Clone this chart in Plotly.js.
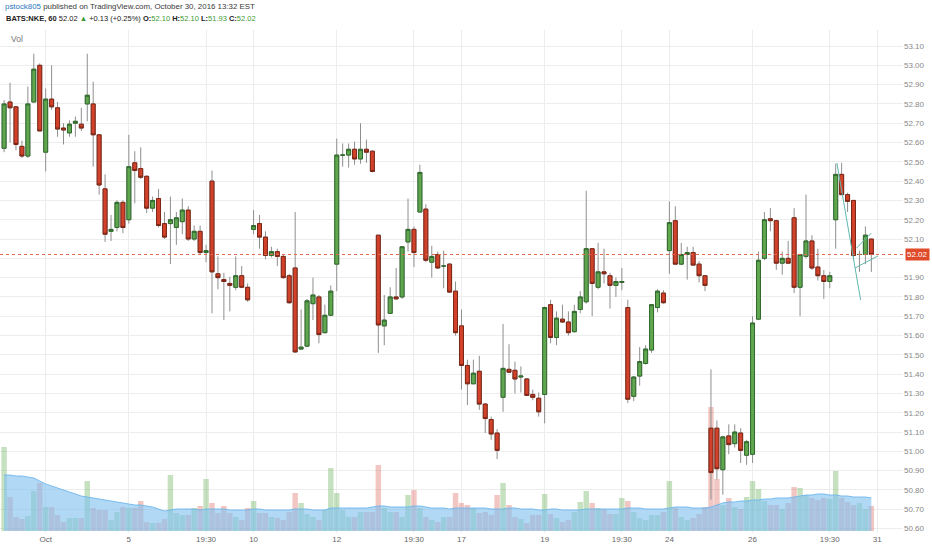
<!DOCTYPE html>
<html><head><meta charset="utf-8">
<script src="https://cdn.plot.ly/plotly-3.0.1.min.js"></script>
<style>html,body{margin:0;padding:0;background:#fff}#chart{width:932px;height:550px}</style>
</head><body><div id="chart"></div>
<script>
// Trading sessions (hourly bars, 7 per session)
const sessions = ['Sep 30','Oct 3','Oct 4','Oct 5','Oct 6','Oct 7','Oct 10','Oct 11','Oct 12','Oct 13','Oct 14',
  'Oct 17','Oct 18','Oct 19','Oct 20','Oct 21','Oct 24','Oct 25','Oct 26','Oct 27','Oct 28'];
const hours = ['09:30','10:30','11:30','12:30','13:30','14:30','15:30'];

const open = [
 52.57,52.81,52.785,52.58,52.53,52.81,53.00,
 52.55,52.825,52.78,52.675,52.65,52.70,52.695,
 52.80,52.80,52.64,52.36,52.14,52.16,52.29,
 52.20,52.495,52.465,52.425,52.26,52.31,52.18,
 52.18,52.16,52.19,52.25,52.10,52.14,52.03,
 52.40,51.92,51.89,51.87,51.85,51.91,51.85,
 52.15,52.18,52.11,52.015,52.035,52.01,51.91,
 51.95,51.53,51.545,51.765,51.80,51.615,51.705,
 51.97,52.535,52.535,52.565,52.515,52.565,52.555,
 52.12,51.65,51.715,51.80,51.80,52.085,52.15,
 52.24,52.255,51.98,52.02,51.96,51.97,51.83,
 51.65,51.445,51.35,51.415,51.245,51.165,51.095,
 51.28,51.425,51.42,51.385,51.375,51.295,51.275,
 51.295,51.76,51.59,51.685,51.67,51.62,51.735,
 51.775,52.05,51.85,51.93,51.91,51.86,51.875,
 51.745,51.285,51.39,51.455,51.525,51.745,51.82,
 52.04,52.195,51.97,52.02,52.03,51.97,51.91,
 51.12,51.12,50.905,51.08,51.04,51.095,50.98,
 50.985,51.685,52.00,52.205,52.195,51.975,52.00,
 52.21,51.85,52.01,52.09,51.955,51.91,51.88,
 52.20,52.435,52.33,52.30,52.02,52.02,52.10];
const high = [
 52.82,52.91,52.79,52.61,52.89,53.06,53.01,
 52.88,53.00,52.81,52.70,52.715,52.735,52.78,
 53.06,52.915,52.64,52.435,52.225,52.30,52.30,
 52.64,52.555,52.575,52.43,52.32,52.36,52.24,
 52.32,52.24,52.31,52.27,52.17,52.17,52.07,
 52.455,52.01,51.925,51.905,52.01,51.96,51.87,
 52.25,52.225,52.14,52.06,52.05,52.02,51.92,
 52.24,51.735,51.79,51.90,51.81,51.76,51.86,
 52.62,52.595,52.595,52.605,52.70,52.615,52.56,
 52.12,51.81,51.85,51.95,52.06,52.31,52.165,
 52.485,52.28,52.065,52.035,52.04,51.975,51.88,
 51.735,51.475,51.475,51.495,51.25,51.18,51.115,
 51.66,51.555,51.465,51.44,51.38,51.32,51.305,
 51.75,51.785,51.725,51.76,51.725,51.76,51.83,
 52.35,52.05,52.08,52.05,51.925,51.90,51.95,
 51.785,51.39,51.54,51.55,51.76,51.84,51.835,
 52.295,52.27,52.08,52.06,52.06,51.985,51.91,
 51.425,51.16,51.08,51.14,51.14,51.12,51.06,
 51.70,52.035,52.24,52.26,52.20,52.035,52.09,
 52.26,52.02,52.33,52.12,52.05,51.94,51.93,
 52.49,52.495,52.34,52.30,52.04,52.165,52.10];
const low = [
 52.55,52.60,52.56,52.52,52.52,52.81,52.66,
 52.45,52.77,52.63,52.59,52.63,52.63,52.66,
 52.71,52.475,52.33,52.085,52.09,52.14,52.13,
 52.18,52.285,52.41,52.235,52.24,52.16,52.10,
 51.97,52.07,52.125,52.09,52.09,52.02,51.98,
 51.715,51.84,51.68,51.725,51.835,51.845,51.775,
 52.125,52.05,51.995,52.005,51.96,51.895,51.765,
 51.51,51.525,51.54,51.68,51.56,51.61,51.70,
 51.83,52.475,52.47,52.485,52.49,52.495,52.445,
 51.51,51.55,51.715,51.785,51.79,52.035,51.955,
 52.24,51.98,51.90,51.945,51.845,51.82,51.60,
 51.32,51.24,51.35,51.215,51.095,51.06,50.96,
 51.205,51.41,51.30,51.305,51.29,51.265,51.18,
 51.145,51.56,51.55,51.665,51.60,51.615,51.715,
 51.765,51.70,51.84,51.87,51.74,51.80,51.835,
 51.25,51.26,51.34,51.45,51.51,51.72,51.765,
 51.92,51.965,51.965,51.89,51.96,51.875,51.83,
 50.75,50.855,50.775,50.985,51.02,50.94,50.93,
 50.94,51.68,51.99,52.14,51.94,51.915,51.97,
 51.82,51.70,52.00,51.94,51.885,51.79,51.845,
 52.05,52.33,52.24,51.99,51.93,51.97,51.93];
const close = [
 52.80,52.78,52.59,52.53,52.80,52.98,52.66,
 52.825,52.785,52.67,52.665,52.695,52.71,52.675,
 52.845,52.64,52.38,52.125,52.15,52.29,52.16,
 52.475,52.455,52.42,52.26,52.30,52.17,52.11,
 52.20,52.21,52.25,52.10,52.14,52.03,52.04,
 51.93,51.90,51.88,51.86,51.91,51.85,51.785,
 52.17,52.11,52.015,52.035,52.01,51.90,51.77,
 51.515,51.54,51.78,51.81,51.605,51.705,51.83,
 52.535,52.535,52.565,52.515,52.565,52.55,52.45,
 51.655,51.68,51.80,51.79,52.06,52.15,52.03,
 52.445,51.99,52.01,51.95,51.96,51.825,51.615,
 51.445,51.35,51.405,51.245,51.17,51.09,51.005,
 51.43,51.41,51.375,51.39,51.29,51.28,51.205,
 51.745,51.59,51.69,51.67,51.615,51.725,51.80,
 52.05,51.87,51.93,51.92,51.86,51.88,51.88,
 51.27,51.385,51.465,51.53,51.76,51.83,51.77,
 52.185,51.97,52.02,52.03,51.965,51.91,51.86,
 50.89,50.91,51.075,51.035,51.10,51.005,51.05,
 51.665,51.99,52.20,52.195,51.975,52.00,51.975,
 51.85,52.02,52.09,51.95,51.91,51.88,51.91,
 52.435,52.33,52.295,52.015,52.02,52.12,52.02];
// volume (thousands of shares) and its moving average
const volume = [
 840,340,140,120,150,400,480,
 240,240,160,90,130,130,130,
 500,230,210,210,110,190,240,
 230,230,300,90,80,80,120,
 560,180,160,160,230,250,520,
 280,180,250,180,140,110,230,
 300,180,180,140,130,110,190,
 380,280,170,140,110,210,630,
 380,210,140,140,190,190,190,
 660,230,190,190,140,360,410,
 230,140,110,90,140,140,380,
 280,260,230,180,190,160,360,
 480,260,140,120,80,160,160,
 370,170,130,90,110,190,290,
 400,280,230,220,170,170,330,
 300,190,130,110,160,160,190,
 500,230,140,110,130,170,240,
 1240,520,260,330,240,220,340,
 500,420,300,260,260,220,280,
 440,430,360,330,310,330,320,
 600,330,290,260,280,220,250];
const volumeMA = [
 560,560,550,550,540,530,500,
 470,450,430,410,390,370,350,
 340,330,320,310,300,290,280,
 270,260,260,250,240,220,200,
 210,220,220,220,220,210,220,
 220,220,220,210,210,210,210,
 220,220,210,210,210,210,210,
 220,220,220,210,210,210,230,
 230,230,230,230,230,230,240,
 250,250,240,240,240,240,250,
 250,240,230,230,230,220,230,
 230,230,230,230,230,220,220,
 220,230,230,220,220,220,210,
 210,220,220,210,210,210,210,
 220,220,220,220,220,220,220,
 230,230,230,220,220,220,220,
 230,240,240,240,230,230,230,
 240,260,280,290,290,300,300,
 310,310,320,320,330,330,330,
 340,350,360,360,370,370,360,
 360,350,350,340,340,340,330];

// x-axis tick labels: [session, hour, label]
const tickDefs = [['Oct 3','09:30','Oct'],['Oct 5','09:30','5'],['Oct 6','15:30','19:30'],['Oct 10','09:30','10'],
  ['Oct 12','09:30','12'],['Oct 13','15:30','19:30'],['Oct 17','09:30','17'],['Oct 19','09:30','19'],
  ['Oct 20','15:30','19:30'],['Oct 24','09:30','24'],['Oct 26','09:30','26'],['Oct 27','15:30','19:30'],
  ['Oct 31','09:30','31']];
// price-axis tick labels
const priceTicks = [50.6,50.7,50.8,50.9,51.0,51.1,51.2,51.3,51.4,51.5,51.6,51.7,51.8,51.9,52.0,
  52.1,52.2,52.3,52.4,52.5,52.6,52.7,52.8,52.9,53.0,53.1];

// drawn trend lines on the chart: [bar0, price0, bar1, price1]
const drawnLines = [[140.2,52.494,144.2,51.784],[143.25,51.95,147.1,52.012],[143.5,52.053,146.0,52.131]];

const lastPrice = 52.02;
// header legend pieces
const quote = {symbol:'BATS:NKE, 60', last:'52.02', change:'+0.13 (+0.25%)', O:'52.10', H:'52.10', L:'51.93', C:'52.02'};

const times = [];
sessions.forEach(d => hours.forEach(h => times.push(d + ' ' + h)));
const idx = times.map((_, i) => i);
function barIndex(day, hour) {
  const s = sessions.indexOf(day);
  const d = s >= 0 ? s : sessions.length;
  return d * hours.length + hours.indexOf(hour);
}
const tickvals = tickDefs.map(t => barIndex(t[0], t[1]));
const ticktext = tickDefs.map(t => t[2]);
const pTickText = priceTicks.map(p => Math.abs(p - lastPrice) < 0.05 ? '' : p.toFixed(2));

const bodyHigh = open.map((o, i) => Math.max(o, close[i]));
const bodyLow = open.map((o, i) => Math.min(o, close[i]));
const volColors = close.map((c, i) => c >= open[i] ? 'rgba(105,175,90,0.38)' : 'rgba(222,105,95,0.38)');

const FONT = 'Liberation Sans, Arial, sans-serif';

const traces = [
  { type:'scatter', x: idx, y: volumeMA, yaxis:'y', mode:'lines', fill:'tozeroy',
    fillcolor:'rgba(125,192,240,0.6)', line:{color:'rgba(110,182,236,0.9)', width:1}, hoverinfo:'skip' },
  { type:'bar', x: idx, y: volume, yaxis:'y', marker:{color: volColors, line:{width:0}}, hoverinfo:'skip' },
  { type:'candlestick', x: idx, open, high, low, close, xaxis:'x', yaxis:'y2',
    increasing:{line:{color:'#8f8f8f', width:1}, fillcolor:'rgba(0,0,0,0)'},
    decreasing:{line:{color:'#8f8f8f', width:1}, fillcolor:'rgba(0,0,0,0)'}, hoverinfo:'skip' },
  { type:'candlestick', x: idx, open, high: bodyHigh, low: bodyLow, close, xaxis:'x', yaxis:'y2',
    increasing:{line:{color:'#2f6a2c', width:1}, fillcolor:'#5fa64f'},
    decreasing:{line:{color:'#7c2616', width:1}, fillcolor:'#d2412a'}, hoverinfo:'skip' }
];

const shapes = [
  { type:'line', xref:'paper', x0:0, x1:1, yref:'y2', y0:lastPrice, y1:lastPrice,
    line:{color:'#e2694f', width:1, dash:'dot'} }
].concat(drawnLines.map(l => ({ type:'line', xref:'x', yref:'y2', x0:l[0], y0:l[1], x1:l[2], y1:l[3],
    line:{color:'#5fb8ae', width:1} })));

const G = '#3c9a32';
const PW = 903; // plot width in px, used to place header text
function hdr(px, py, text, opts) {
  return Object.assign({ xref:'paper', yref:'paper', x: px / PW, y: 1 + (30 - py) / 503, xanchor:'left', yanchor:'middle',
    showarrow:false, font:{family:FONT, size:8, color:'#222'}, text }, opts || {});
}
const g = v => '<span style="color:' + G + '">' + v + '</span>';
const annotations = [
  hdr(3, 7, '<span style="color:#2b78bf">pstock805</span> published on TradingView.com, October 30, 2016 13:32 EST',
    {font:{family:FONT, size:7.9, color:'#3a3a3a'}}),
  hdr(4, 18.5, '<b>' + quote.symbol + '</b> ' + quote.last + ' ' + g('▲') + ' ' + quote.change + ' <b>O:</b>' + g(quote.O) +
    ' <b>H:</b>' + g(quote.H) + ' <b>L:</b>' + g(quote.L) + ' <b>C:</b>' + g(quote.C),
    {font:{family:FONT, size:7.5, color:'#222'}}),
  hdr(9, 39, 'Vol', {font:{family:FONT, size:8.5, color:'#777'}}),
  { xref:'paper', yref:'y2', x:1.002, y:lastPrice, xanchor:'left', yanchor:'middle', showarrow:false,
    bgcolor:'#df4a2a', borderpad:1, font:{family:FONT, size:8, color:'#fff'}, text: lastPrice.toFixed(2) }
];

const layout = {
  width:932, height:550,
  margin:{l:0, r:29, t:30, b:17},
  paper_bgcolor:'#ffffff', plot_bgcolor:'#ffffff',
  showlegend:false, bargap:0.08, boxgap:0.33, boxgroupgap:0,
  font:{family:FONT, size:8, color:'#666'},
  xaxis:{ range:[-0.69, 151.33], tickvals, ticktext, showgrid:true, gridcolor:'#ededed', gridwidth:1,
    zeroline:false, showline:false, ticks:'', tickfont:{family:FONT, size:8, color:'#666'},
    rangeslider:{visible:false}, fixedrange:true },
  yaxis:{ range:[-20, 5010], visible:false, showgrid:false, zeroline:false, fixedrange:true },
  yaxis2:{ overlaying:'y', side:'right', range:[50.577, 53.183], tickmode:'array', tickvals: priceTicks, ticktext: pTickText,
    showgrid:true, gridcolor:'#ededed', zeroline:false, showline:false, ticks:'',
    tickfont:{family:FONT, size:8, color:'#888'}, fixedrange:true },
  shapes, annotations
};

Plotly.newPlot('chart', traces, layout, {staticPlot:true, displayModeBar:false});
</script>
</body></html>
